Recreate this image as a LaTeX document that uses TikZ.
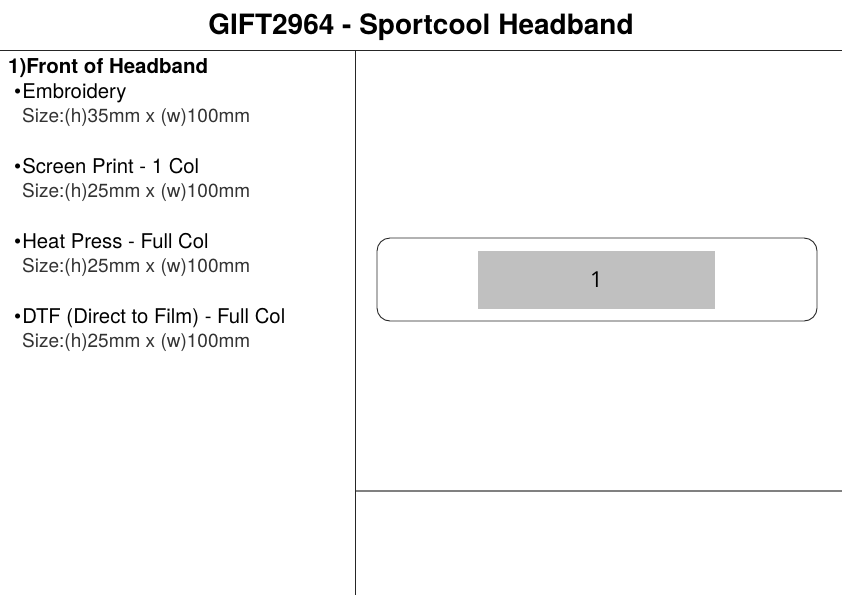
\documentclass[tikz,border=0pt]{standalone}
\usepackage{fontspec}
\setmainfont{TeX Gyre Heros}
\newfontfamily\numfont{Open Sans}
\definecolor{printgray}{HTML}{C0C0C0}
\definecolor{sizegray}{HTML}{333333}
\begin{document}
\begin{tikzpicture}[x=1pt,y=-1pt,
  titletext/.style={font=\fontsize{28}{32}\selectfont\bfseries, anchor=base},
  headtext/.style={font=\fontsize{20.5}{24}\selectfont\bfseries, anchor=base west, inner sep=0pt},
  bullettext/.style={font=\fontsize{20.3}{24}\selectfont, anchor=base west, inner sep=0pt},
  sizetext/.style={font=\fontsize{19}{22}\selectfont, text=sizegray, anchor=base west, inner sep=0pt},
  frame/.style={draw=black!85, line width=0.9pt},
  divider/.style={draw=black!50, line width=1.3pt},
  band/.style={draw=black!85, line width=0.9pt, rounded corners=13pt},
  area/.style={fill=printgray, draw=none}]
\useasboundingbox (0,0) rectangle (842,595);
\fill[white] (0,0) rectangle (842,595);
\node[titletext] (title) at (421,34) {GIFT2964 - Sportcool Headband};
\coordinate (hl) at (0,50);
\coordinate (hr) at (842,50);
\coordinate (vt) at (355.5,50);
\coordinate (vb) at (355.5,595);
\coordinate (gl) at (355.5,491);
\coordinate (gr) at (842,491);
\draw[frame] (hl) -- (hr);
\draw[frame] (vt) -- (vb);
\draw[divider] (gl) -- (gr);
\node[headtext] (head) at (8,73) {1)Front of Headband};
\foreach \i/\t/\s in {0/Embroidery/35, 1/Screen Print - 1 Col/25, 2/Heat Press - Full Col/25, 3/DTF (Direct to Film) - Full Col/25}{
  \node[bullettext] (b\i) at (14,{98+75*\i}) {\textbullet\kern1pt\t};
  \node[sizetext] (s\i) at (22,{122+75*\i}) {Size:(h)\s mm x (w)100mm};
}
\draw[band] (377,238) rectangle (817,321);
\node[area, minimum width=237pt, minimum height=58pt, inner sep=0pt] (print) at (596.5,280) {};
\node[font=\numfont\fontsize{22}{26}\selectfont] (num) at (print) {1};
\end{tikzpicture}
\end{document}
